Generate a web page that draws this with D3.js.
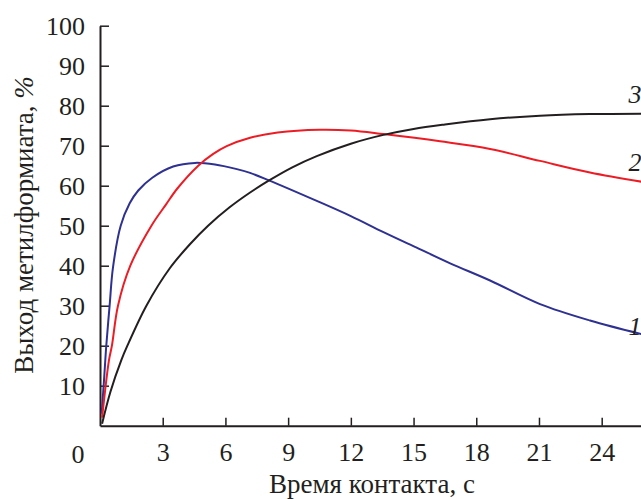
<!DOCTYPE html>
<html><head><meta charset="utf-8">
<script src="https://cdn.jsdelivr.net/npm/d3@7"></script>
<style>
body{margin:0;background:#fff;}
text{font-family:"Liberation Serif","Times New Roman",serif;fill:#231f20;}
</style></head>
<body>
<svg id="chart" width="641" height="499"></svg>
<script>
// Data
const xTicks = [3, 6, 9, 12, 15, 18, 21, 24];
const yTicks = [10, 20, 30, 40, 50, 60, 70, 80, 90, 100];
const seriesNames = ["1", "2", "3"];
const seriesColors = ["#2e3192", "#ed1c24", "#231f20"];

const curve1T = [0.08, 0.2, 0.3, 0.46, 0.62, 0.99, 1.42, 1.83, 2.5, 3.5, 4.55, 5.5, 6.5, 7.18, 8.05, 10.37, 12, 13.56, 15.15, 16.75, 18.66, 21.05, 23.44, 25.9];
const curve1V = [3, 12, 20, 30, 39.5, 50, 55.6, 58.8, 62.0, 64.8, 65.7, 65.3, 64.2, 63.2, 61.4, 56.2, 52.4, 48.4, 44.5, 40.6, 36.3, 30.4, 26.3, 22.9];

const curve2T = [0.1, 0.43, 0.57, 0.86, 1.45, 2.46, 3.17, 3.7, 4.7, 5.4, 6.06, 7.18, 8.5, 10.5, 12, 13.56, 16.27, 18.66, 21.05, 23.44, 25.9];
const curve2V = [2, 16.4, 20, 30, 40, 50, 55.4, 59.3, 65.0, 67.9, 69.9, 72.0, 73.3, 74, 73.8, 72.9, 71.1, 69.2, 66.2, 63.3, 61];

const curve3T = [0.1, 0.5, 1.02, 1.31, 2.22, 3.33, 4.29, 5.17, 6.2, 7.18, 8.05, 9.2, 10.37, 12, 13.56, 15, 16.5, 18.66, 21.05, 23.44, 25.9];
const curve3V = [0.5, 8.5, 16.4, 20, 30, 39.3, 45.3, 50.0, 54.6, 58.3, 61.2, 64.6, 67.4, 70.5, 72.7, 74.2, 75.3, 76.6, 77.5, 77.9, 78];

const labelPos = [[25.9, 22.8], [25.9, 63.8], [25.9, 80.8]];

const series = [
  curve1T.map((t, i) => [t, curve1V[i]]),
  curve2T.map((t, i) => [t, curve2V[i]]),
  curve3T.map((t, i) => [t, curve3V[i]])
];

const svg = d3.select("#chart");
const x = d3.scaleLinear().domain([0, 26]).range([100, 643.5]);
const y = d3.scaleLinear().domain([0, 100]).range([425.7, 25.7]);

const axisColor = "#231f20";

// X axis
const gx = svg.append("g").attr("transform", `translate(0,${y(0)})`)
  .call(d3.axisBottom(x).tickValues(xTicks).tickSizeInner(-8).tickSizeOuter(0).tickPadding(17));
gx.select(".domain").attr("stroke", axisColor).attr("stroke-width", 2);
gx.selectAll(".tick line").attr("stroke", axisColor).attr("stroke-width", 1.5);
gx.selectAll(".tick text").attr("font-size", 26).attr("font-family", "Liberation Serif").attr("fill", axisColor);

// Y axis
const gy = svg.append("g").attr("transform", `translate(${x(0)},0)`)
  .call(d3.axisLeft(y).tickValues(yTicks).tickSizeInner(-9).tickSizeOuter(0).tickPadding(15));
gy.select(".domain").attr("stroke", axisColor).attr("stroke-width", 2);
gy.selectAll(".tick line").attr("stroke", axisColor).attr("stroke-width", 1.5);
gy.selectAll(".tick text").attr("font-size", 26).attr("font-family", "Liberation Serif").attr("fill", axisColor);

// Origin label
svg.append("text").attr("x", 78).attr("y", 463).attr("text-anchor", "middle")
  .attr("font-size", 26).text("0");

// Axis titles
svg.append("text").attr("x", 372).attr("y", 493).attr("text-anchor", "middle")
  .attr("font-size", 27).text("Время контакта, с");
const yt = svg.append("text").attr("transform", "translate(33,225) rotate(-90)")
  .attr("text-anchor", "middle").attr("font-size", 27);
yt.append("tspan").text("Выход метилформиата, ");
yt.append("tspan").attr("font-style", "italic").text("%");

// Curves
const line = d3.line().x(d => x(d[0])).y(d => y(d[1])).curve(d3.curveCatmullRom.alpha(0.5));
svg.append("g").selectAll("path").data(series).join("path")
  .attr("d", line).attr("fill", "none")
  .attr("stroke", (d, i) => seriesColors[i]).attr("stroke-width", 2);

// Curve labels
svg.append("g").selectAll("text").data(labelPos).join("text")
  .attr("x", d => x(d[0])).attr("y", d => y(d[1]))
  .attr("text-anchor", "end").attr("font-style", "italic").attr("font-size", 26)
  .text((d, i) => seriesNames[i]);
</script>
</body></html>
